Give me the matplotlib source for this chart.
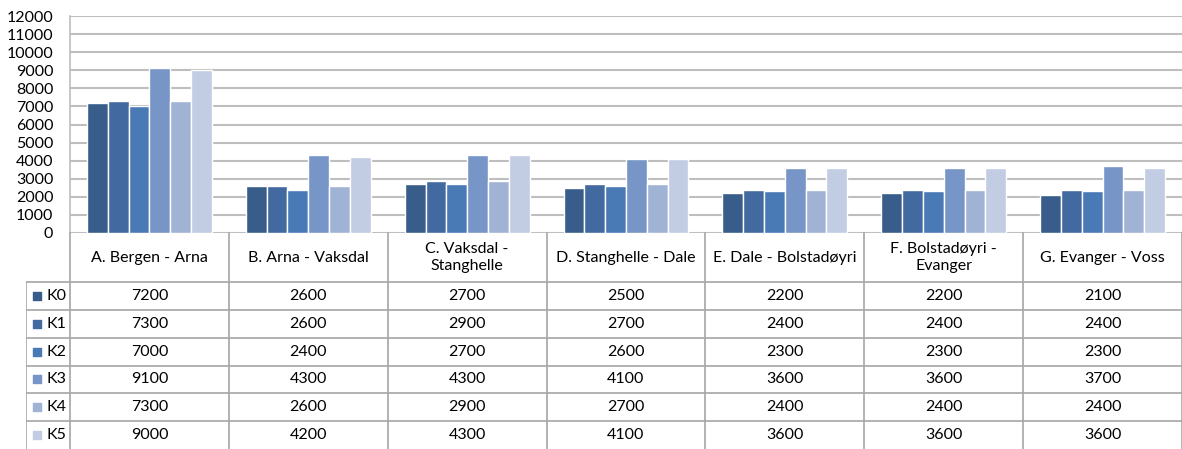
import numpy as np
import matplotlib.pyplot as plt

plt.rcParams['font.family'] = ['Lato', 'DejaVu Sans']

# data
categories = ["A. Bergen - Arna", "B. Arna - Vaksdal", "C. Vaksdal -\nStanghelle",
              "D. Stanghelle - Dale", "E. Dale - Bolstadøyri", "F. Bolstadøyri -\nEvanger",
              "G. Evanger - Voss"]
series = ["K0", "K1", "K2", "K3", "K4", "K5"]
K0 = [7200, 2600, 2700, 2500, 2200, 2200, 2100]
K1 = [7300, 2600, 2900, 2700, 2400, 2400, 2400]
K2 = [7000, 2400, 2700, 2600, 2300, 2300, 2300]
K3 = [9100, 4300, 4300, 4100, 3600, 3600, 3700]
K4 = [7300, 2600, 2900, 2700, 2400, 2400, 2400]
K5 = [9000, 4200, 4300, 4100, 3600, 3600, 3600]
values = [K0, K1, K2, K3, K4, K5]
yticks = list(range(0, 12001, 1000))

colors = ["#385D8A", "#426AA0", "#4A7AB6", "#7795C6", "#A1B3D5", "#C2CDE3"]
grid_c = "#BEBEBE"
W, H = 1182, 449

fig = plt.figure(figsize=(W / 100, H / 100), dpi=100)

# chart area
ax = fig.add_axes([70 / W, (H - 233) / H, (W - 70) / W, (233 - 16) / H])
x = np.arange(len(categories))
bw = 0.131
for i, (name, vals) in enumerate(zip(series, values)):
    ax.bar(x + (i - 2.5) * bw, vals, width=bw, color=colors[i],
           edgecolor="white", linewidth=1, zorder=3)
ax.set_xlim(-0.5, len(categories) - 0.5)
ax.set_ylim(0, 12000)
ax.set_yticks(yticks)
ax.set_yticklabels([str(t) for t in yticks], fontsize=11.5)
ax.tick_params(axis="y", length=0, pad=12)
ax.set_xticks([])
ax.grid(axis="y", color=grid_c, linewidth=1.5, zorder=0)
for s in ["top", "right", "bottom"]:
    ax.spines[s].set_visible(False)
ax.spines["left"].set_color(grid_c)
ax.spines["left"].set_linewidth(1.2)

# data table below
leg_w = 44 / 159
hdr = 49 / 27.8
tx = fig.add_axes([26 / W, 0, (W - 26) / W, 216 / H])
n = len(series)
tx.set_xlim(-0.5 - leg_w, len(categories) - 0.5)
tx.set_ylim(n, -hdr)
tx.axis("off")
line_c = "#A6A6A6"
# vertical lines
for c in range(len(categories) + 1):
    tx.plot([c - 0.5, c - 0.5], [-hdr, n], color=line_c, lw=1.2, clip_on=False)
tx.plot([-0.5 - leg_w] * 2, [0, n], color=line_c, lw=1.2)
# horizontal lines
for r in range(n):
    tx.plot([-0.5 - leg_w, len(categories) - 0.5], [r, r], color=line_c, lw=1.2)
# header
for c, cat in enumerate(categories):
    tx.text(c, -hdr / 2, cat, ha="center", va="center", fontsize=11.5,
            linespacing=1.25)
# rows
for r, (name, vals) in enumerate(zip(series, values)):
    tx.scatter([-0.5 - leg_w + 0.07], [r + 0.5], marker="s", s=40,
               color=colors[r], clip_on=False)
    tx.text(-0.5 - leg_w + 0.13, r + 0.5, name, ha="left", va="center", fontsize=11.5)
    for c, v in enumerate(vals):
        tx.text(c, r + 0.5, str(v), ha="center", va="center", fontsize=11.5)

fig.savefig("out.png", dpi=100)
